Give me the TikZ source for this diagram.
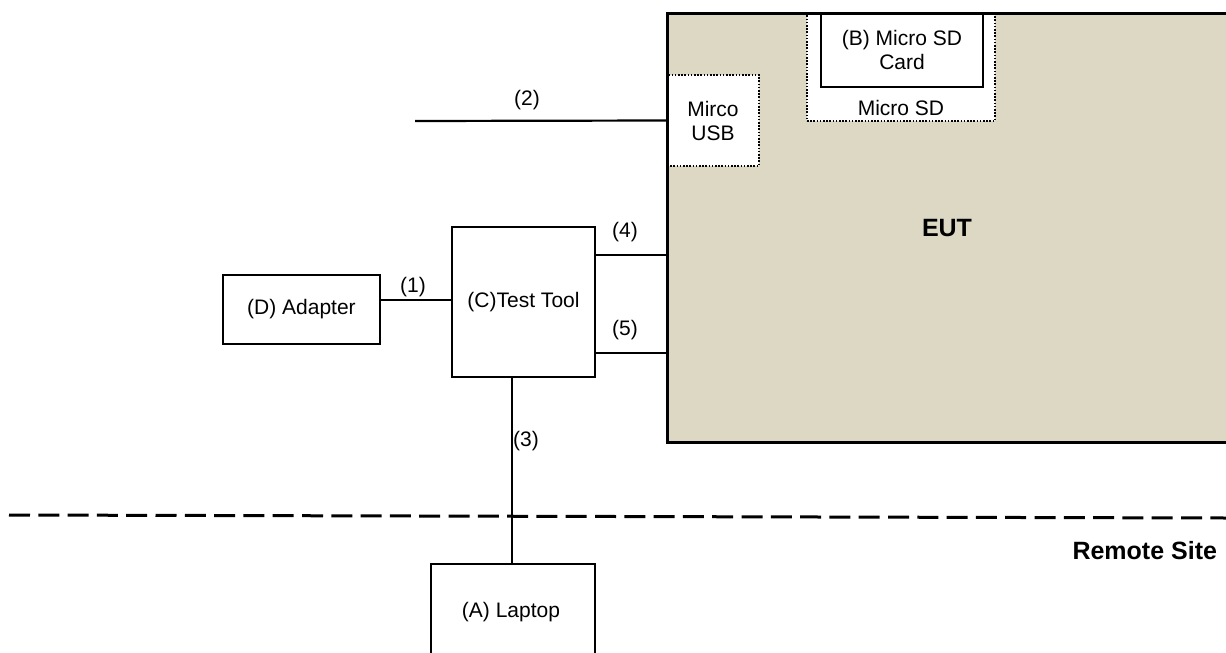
\documentclass[tikz,border=0pt]{standalone}
\usepackage{fontspec}
\setmainfont{Liberation Sans}
\definecolor{euttan}{HTML}{DDD8C4}
\begin{document}
\begin{tikzpicture}[x=1pt,y=-1pt,
  every node/.style={font=\fontsize{21}{24}\selectfont, inner sep=0pt, outer sep=0pt},
  box/.style={draw, line width=2.6pt, fill=white, rectangle},
  dotbox/.style={draw, line width=1.8pt, fill=white, rectangle, dash pattern=on 1.6pt off 1.6pt},
  conn/.style={line width=2.2pt},
  sitedash/.style={line width=3pt, dash pattern=on 21pt off 8.3pt},
  bigbold/.style={font=\fontsize{25}{28}\selectfont\bfseries},
  txt/.style={align=center}
]
\clip (0,0) rectangle (1226,653);
\fill[white] (0,0) rectangle (1226,653);

% EUT
\node[fill=euttan, minimum width=573pt, minimum height=429pt] (eut) at (953.5,227.5) {};
\node[bigbold] (euttext) at (947,228) {EUT};

% Micro USB and Micro SD slots
\node[dotbox, minimum width=92pt, minimum height=91pt, txt] (usb) at (713,120.5) {Mirco\\USB};
\node[dotbox, minimum width=188pt, minimum height=108pt] (sd) at (901,67) {};
\node (sdtext) at (901,108) {Micro SD};
\node[box, minimum width=162pt, minimum height=74pt, txt] (card) at (902,50) {(B) Micro SD\\Card};
\draw[line width=3pt] (eut.north west) rectangle (eut.south east);

% Test setup
\node[box, minimum width=143pt, minimum height=150pt] (tt) at (523.5,302) {(C)Test Tool};
\node[box, minimum width=157pt, minimum height=69pt] (adapter) at (301.5,309.5) {(D) Adapter};
\node[box, minimum width=164pt, minimum height=136pt] (laptop) at (513,632) {};
\node (laptoptext) at (511,612) {(A) Laptop};

% connectors
\draw[conn] (adapter.east |- 0,300) -- (tt.west |- 0,300);
\node (l1) at (413,287) {(1)};
\coordinate (c2) at (415,121);
\draw[conn] (c2) -- (usb.west);
\node (l2) at (527,100) {(2)};
\draw[conn] (512,0 |- tt.south) -- (512,0 |- laptop.north);
\node (l3) at (526,441) {(3)};
\draw[conn] (tt.east |- 0,255) -- (eut.west |- 0,255);
\node (l4) at (625,232) {(4)};
\draw[conn] (tt.east |- 0,353) -- (eut.west |- 0,353);
\node (l5) at (625,330) {(5)};

% remote site boundary
\coordinate (d1) at (9,515);
\coordinate (d2) at (1226,518);
\draw[sitedash] (d1) -- (d2);
\node[anchor=east, bigbold] (remote) at (1217,551) {Remote Site};
\end{tikzpicture}
\end{document}
